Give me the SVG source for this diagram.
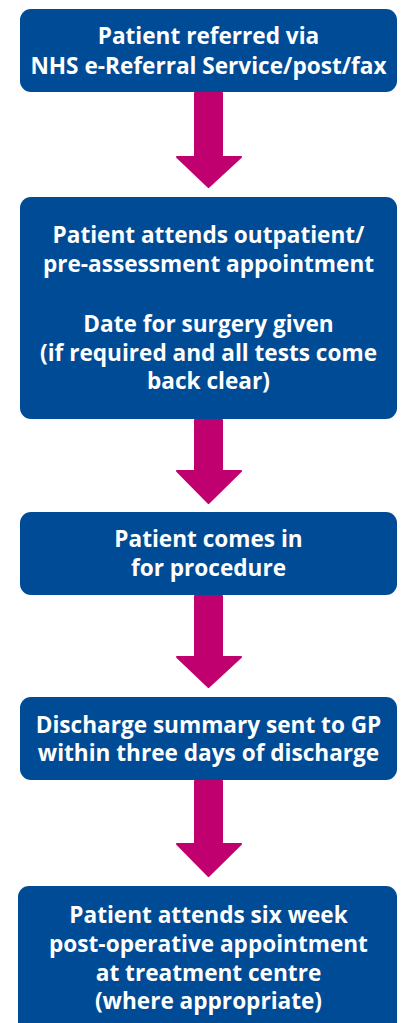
<svg xmlns="http://www.w3.org/2000/svg" width="404" height="1023" viewBox="0 0 404 1023">
<style>
.box{fill:#004B95}
.arr{fill:#C1006F;stroke:#C1006F;stroke-width:2;stroke-linejoin:round}
text{font-family:"Open Sans","Liberation Sans",sans-serif;font-weight:700;font-size:22.6px;fill:#ffffff;text-anchor:middle}
</style>
<rect width="404" height="1023" fill="#ffffff"/>
<g id="connectors">
<path class="arr" d="M195,93 H222 V157 H241 L208.5,187 L177,157 H195 Z"/>
<path class="arr" d="M195,420 H222 V471 H241 L208.5,503 L177,471 H195 Z"/>
<path class="arr" d="M195,596 H222 V657 H241 L208.5,687 L177,657 H195 Z"/>
<path class="arr" d="M195,781 H222 V844 H241 L208.5,876 L177,844 H195 Z"/>
</g>
<g id="node1">
<rect class="box" x="20" y="9" width="377" height="83" rx="11"/>
<text x="208.5" y="44">Patient referred via</text>
<text x="208.5" y="74">NHS e-Referral Service/post/fax</text>
</g>
<g id="node2">
<rect class="box" x="20" y="197" width="377" height="222" rx="11"/>
<text x="208.5" y="243">Patient attends outpatient/</text>
<text x="208.5" y="272">pre-assessment appointment</text>
<text x="208.5" y="332">Date for surgery given</text>
<text x="208.5" y="361">(if required and all tests come</text>
<text x="208.5" y="389">back clear)</text>
</g>
<g id="node3">
<rect class="box" x="20" y="512" width="377" height="83" rx="11"/>
<text x="208.5" y="547">Patient comes in</text>
<text x="208.5" y="576">for procedure</text>
</g>
<g id="node4">
<rect class="box" x="20" y="697" width="377" height="83" rx="11"/>
<text x="208.5" y="733">Discharge summary sent to GP</text>
<text x="208.5" y="761">within three days of discharge</text>
</g>
<g id="node5">
<rect class="box" x="18" y="886" width="379" height="150" rx="11"/>
<text x="208.5" y="923">Patient attends six week</text>
<text x="208.5" y="952">post-operative appointment</text>
<text x="208.5" y="980.5">at treatment centre</text>
<text x="208.5" y="1009">(where appropriate)</text>
</g>
</svg>
